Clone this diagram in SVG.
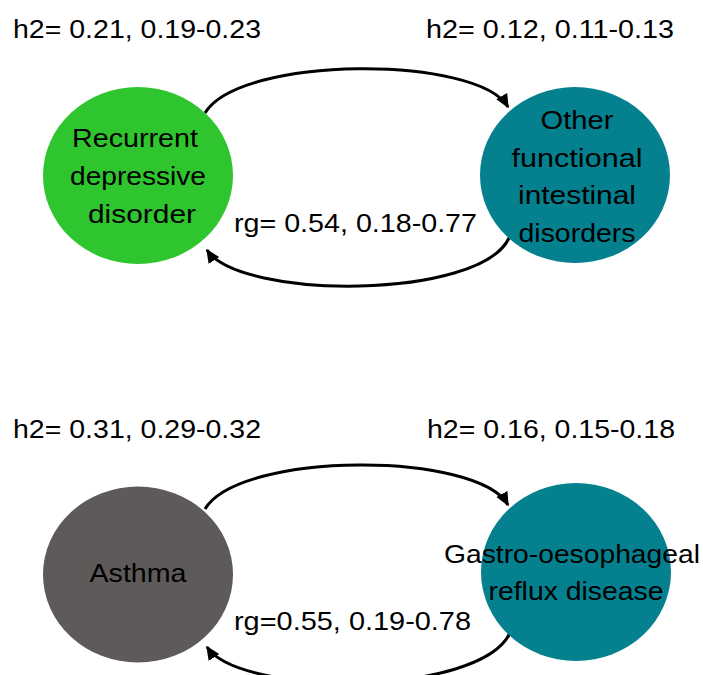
<svg xmlns="http://www.w3.org/2000/svg" width="703" height="675" viewBox="0 0 703 675">
<defs>
<style>
text{font-family:"Liberation Sans",Arial,sans-serif;fill:#000;font-size:26px}
.lbl{font-size:26px}
.nt{text-anchor:middle;font-size:25px}
.edge{fill:none;stroke:#000;stroke-width:3}
</style>
<marker id="ah" markerUnits="userSpaceOnUse" markerWidth="14" markerHeight="14" viewBox="0 0 10 10" refX="9" refY="5" orient="auto">
<path d="M0,0.5 L10,5 L0,9.5 z" fill="#000"/>
</marker>
</defs>
<rect width="703" height="675" fill="#fff"/>
<g id="labels">
<text class="lbl" x="13" y="38" textLength="248" lengthAdjust="spacingAndGlyphs">h2= 0.21, 0.19-0.23</text>
<text class="lbl" x="426" y="38" textLength="248" lengthAdjust="spacingAndGlyphs">h2= 0.12, 0.11-0.13</text>
<text class="lbl" x="13" y="438" textLength="248" lengthAdjust="spacingAndGlyphs">h2= 0.31, 0.29-0.32</text>
<text class="lbl" x="427" y="438" textLength="248" lengthAdjust="spacingAndGlyphs">h2= 0.16, 0.15-0.18</text>
</g>
<g id="connectors">
<path class="edge" d="M205,113 C240,55 478,55 508,107" marker-end="url(#ah)"/>
<path class="edge" d="M509,238 C480,300 240,300 207,250" marker-end="url(#ah)"/>
<path class="edge" d="M205,509 C240,451 478,451 508,505" marker-end="url(#ah)"/>
<path class="edge" d="M510,633 C480,697 240,697 207,647" marker-end="url(#ah)"/>
<text class="lbl" x="234" y="232" textLength="243" lengthAdjust="spacingAndGlyphs">rg= 0.54, 0.18-0.77</text>
<text class="lbl" x="234" y="630" textLength="237" lengthAdjust="spacingAndGlyphs">rg=0.55, 0.19-0.78</text>
</g>
<g id="node-rdd">
<ellipse cx="138" cy="175.5" rx="95" ry="88.5" fill="#2fc52f"/>
<text class="nt" x="135" y="147" textLength="126" lengthAdjust="spacingAndGlyphs">Recurrent</text>
<text class="nt" x="138" y="185" textLength="136" lengthAdjust="spacingAndGlyphs">depressive</text>
<text class="nt" x="142" y="223" textLength="108" lengthAdjust="spacingAndGlyphs">disorder</text>
</g>
<g id="node-ofid">
<ellipse cx="575" cy="175" rx="95" ry="88" fill="#04808f"/>
<text class="nt" x="577" y="129" textLength="73" lengthAdjust="spacingAndGlyphs">Other</text>
<text class="nt" x="577" y="167" textLength="131" lengthAdjust="spacingAndGlyphs">functional</text>
<text class="nt" x="577" y="204" textLength="118" lengthAdjust="spacingAndGlyphs">intestinal</text>
<text class="nt" x="577" y="242" textLength="117" lengthAdjust="spacingAndGlyphs">disorders</text>
</g>
<g id="node-asthma">
<ellipse cx="138" cy="574.5" rx="95" ry="88" fill="#5e5a59"/>
<text class="nt" x="138" y="582" textLength="97" lengthAdjust="spacingAndGlyphs">Asthma</text>
</g>
<g id="node-gord">
<ellipse cx="576" cy="572" rx="95" ry="89" fill="#04808f"/>
<text class="nt" x="572" y="563" textLength="256" lengthAdjust="spacingAndGlyphs">Gastro-oesophageal</text>
<text class="nt" x="576" y="600" textLength="175" lengthAdjust="spacingAndGlyphs">reflux disease</text>
</g>
</svg>
